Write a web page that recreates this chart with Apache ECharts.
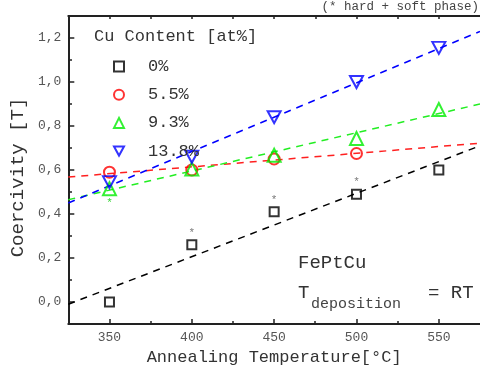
<!DOCTYPE html>
<html>
<head>
<meta charset="utf-8">
<script src="https://cdn.jsdelivr.net/npm/echarts@6/dist/echarts.min.js"></script>
<style>html,body{margin:0;padding:0;background:#fff}#c{width:480px;height:376px}</style>
</head>
<body>
<div id="c"></div>
<script>
// ---- data ----
const temps = [350, 400, 450, 500, 550];
const cu0   = [0.00, 0.26, 0.41, 0.49, 0.60];
const cu55  = [0.59, 0.60, 0.65, 0.675, null];
const cu93  = [0.515, 0.605, 0.667, 0.743, 0.875];
const cu138 = [0.545, 0.66, 0.84, 1.00, 1.155];
// dashed fit lines (endpoints)
const fitX    = [325, 575];
const fit0    = [-0.01, 0.71];
const fit55   = [0.568, 0.722];
const fit93   = [0.465, 0.90];
const fit138  = [0.45, 1.23];
// points marked with * (hard + soft phase)
const star0  = [400, 450, 500];
const star93 = [350];
// names / ticks
const seriesNames = ['0%', '5.5%', '9.3%', '13.8%'];
const xMajorTicks = [350, 400, 450, 500, 550];
const xMinorTicks = [375, 425, 475, 525];
const yMajorTicks = [0, 0.2, 0.4, 0.6, 0.8, 1.0, 1.2];
const yMinorTicks = [0.1, 0.3, 0.5, 0.7, 0.9, 1.1];

const FONT = '"Liberation Mono", "DejaVu Sans Mono", monospace';
const AX = '#222';
const DOWN_TRI = 'path://M0,0 L10,0 L5,9 Z';
const GRID = { left: 68, top: 16, right: -3.5, bottom: 52, containLabel: false };

function pts(xs, ys) { return xs.map((x, i) => [x, ys[i]]).filter(p => p[1] != null); }
function withStars(xs, ys, starXs, pos) {
  return pts(xs, ys).map(p => starXs.indexOf(p[0]) >= 0
    ? { value: p, label: { show: true, formatter: '*', position: pos } }
    : p);
}

const chart = echarts.init(document.getElementById('c'), null, { renderer: 'canvas' });

const markers = [
  { name: seriesNames[0], data: withStars(temps, cu0, star0, 'top'), color: '#000000', symbol: 'rect', size: 9, starColor: '#555' },
  { name: seriesNames[1], data: pts(temps, cu55), color: '#ff0000', symbol: 'circle', size: 11 },
  { name: seriesNames[2], data: withStars(temps, cu93, star93, 'bottom'), color: '#00ee00', symbol: 'triangle', size: 13, starColor: '#00cc00' },
  { name: seriesNames[3], data: pts(temps, cu138), color: '#0000ff', symbol: DOWN_TRI, size: [13, 12] }
];
const fits = [fit0, fit55, fit93, fit138];
const fitColors = ['#000000', '#ff2020', '#22ee22', '#0000ff'];

const series = [];
fits.forEach((f, i) => {
  series.push({
    type: 'line', name: 'fit' + i, data: pts(fitX, f), symbol: 'none',
    lineStyle: { color: fitColors[i], width: 1.5, type: [7, 6] },
    z: 1, silent: true, clip: true
  });
});
markers.forEach(m => {
  series.push({
    type: 'scatter', name: m.name, data: m.data, symbol: m.symbol, symbolSize: m.size,
    itemStyle: { color: 'rgba(255,255,255,0)', borderColor: m.color, borderWidth: 2 },
    label: { show: false, color: m.starColor || '#555', fontSize: 11, fontFamily: FONT, distance: 1 },
    z: 3
  });
});

chart.setOption({
  animation: false,
  backgroundColor: '#fff',
  grid: [GRID, Object.assign({}, GRID)],
  xAxis: [{
    gridIndex: 0, type: 'value', min: 325, max: 575, position: 'bottom',
    name: 'Annealing Temperature[°C]', nameLocation: 'middle', nameGap: 22,
    nameTextStyle: { fontFamily: FONT, fontSize: 17, color: '#333' },
    axisLine: { show: true, onZero: false, lineStyle: { color: AX, width: 2 } },
    axisTick: { show: true, inside: true, length: 5, customValues: xMajorTicks, lineStyle: { color: AX, width: 1.5 } },
    axisLabel: { customValues: xMajorTicks, formatter: v => String(v), fontFamily: FONT, fontSize: 13, color: '#555', margin: 7 },
    splitLine: { show: false }
  }, {
    gridIndex: 0, type: 'value', min: 325, max: 575, position: 'top',
    axisLine: { show: true, onZero: false, lineStyle: { color: AX, width: 2 } },
    axisTick: { show: true, inside: true, length: 3, customValues: xMajorTicks.concat(xMinorTicks), lineStyle: { color: AX, width: 1.5 } },
    axisLabel: { show: false }, splitLine: { show: false }
  }, {
    gridIndex: 1, type: 'value', min: 325, max: 575, position: 'bottom',
    axisLine: { show: false, onZero: false },
    axisTick: { show: true, inside: true, length: 3, customValues: xMinorTicks, lineStyle: { color: AX, width: 1.5 } },
    axisLabel: { show: false }, splitLine: { show: false }
  }],
  yAxis: [{
    gridIndex: 0, type: 'value', min: -0.1, max: 1.3, position: 'left',
    name: 'Coercivity [T]', nameLocation: 'middle', nameGap: 28,
    nameTextStyle: { fontFamily: FONT, fontSize: 19, color: '#333', padding: [0, 15, 0, 0] },
    axisLine: { show: true, onZero: false, lineStyle: { color: AX, width: 2 } },
    axisTick: { show: true, inside: true, length: 6, customValues: yMajorTicks, lineStyle: { color: AX, width: 1.5 } },
    axisLabel: { customValues: yMajorTicks, formatter: v => v.toFixed(1).replace('.', ','), fontFamily: FONT, fontSize: 13, color: '#555', margin: 7 },
    splitLine: { show: false }
  }, {
    gridIndex: 1, type: 'value', min: -0.1, max: 1.3, position: 'left',
    axisLine: { show: false, onZero: false },
    axisTick: { show: true, inside: true, length: 4, customValues: yMinorTicks, lineStyle: { color: AX, width: 1.5 } },
    axisLabel: { show: false }, splitLine: { show: false }
  }],
  legend: {
    orient: 'vertical', left: 108, top: 53, itemWidth: 10, itemHeight: 10, itemGap: 11.2,
    data: markers.map(m => ({ name: m.name, itemStyle: { borderWidth: 2 } })),
    textStyle: { fontFamily: FONT, fontSize: 17, color: '#333', padding: [0, 0, 0, 19] },
    selectedMode: false
  },
  graphic: [
    { type: 'text', left: 94, top: 28, style: { text: 'Cu Content [at%]', font: '17px ' + FONT, fill: '#333' } },
    { type: 'text', right: 1, top: 0, style: { text: '(* hard + soft phase)', font: '12.5px ' + FONT, fill: '#444' } },
    { type: 'text', left: 298, top: 253, style: { text: 'FePtCu', font: '19px ' + FONT, fill: '#333' } },
    { type: 'text', left: 298, top: 283, style: { text: 'T', font: '19px ' + FONT, fill: '#333' } },
    { type: 'text', left: 311, top: 297, style: { text: 'deposition', font: '15px ' + FONT, fill: '#444' } },
    { type: 'text', left: 428, top: 283, style: { text: '= RT', font: '19px ' + FONT, fill: '#333' } }
  ],
  series: series
});
</script>
</body>
</html>
